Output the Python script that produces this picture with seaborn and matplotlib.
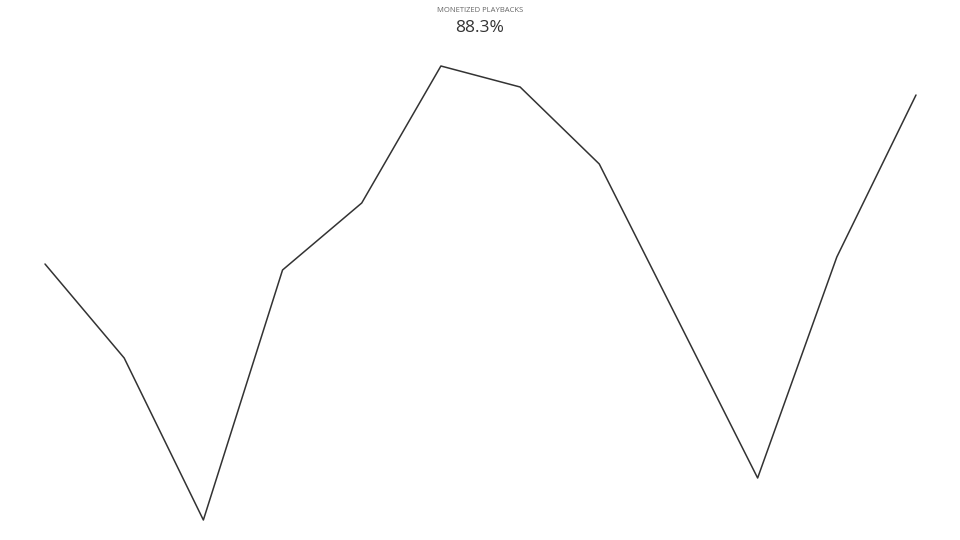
import matplotlib
matplotlib.use("Agg")
import matplotlib.pyplot as plt
import seaborn as sns
import pandas as pd

# monthly share of monetized playbacks (%)
periods = list(range(12))
values = [86.76, 85.82, 84.20, 86.70, 87.37, 88.74, 88.53, 87.76, 86.19, 84.62, 86.83, 88.45]
title = "MONETIZED PLAYBACKS"
headline = "88.3%"

df = pd.DataFrame({"period": periods, "value": values})

sns.set_style("white")
plt.rcParams["font.family"] = ["Open Sans", "DejaVu Sans"]

fig = plt.figure(figsize=(9.6, 5.4), dpi=100)
ax = fig.add_axes([45 / 960, 20 / 540, 871 / 960, 454 / 540])
sns.lineplot(data=df, x="period", y="value", ax=ax, color="#333333", linewidth=1.1, clip_on=False)
ax.set_xlim(min(periods), max(periods))
ax.set_ylim(min(values), max(values))
ax.set_axis_off()

fig.text(0.5, 1 - 11 / 540, title, ha="center", va="center", fontsize=5.5, color="#666666")
fig.text(0.5, 1 - 28 / 540, headline, ha="center", va="center", fontsize=12.5, color="#333333")

fig.savefig("out.png", dpi=100)
